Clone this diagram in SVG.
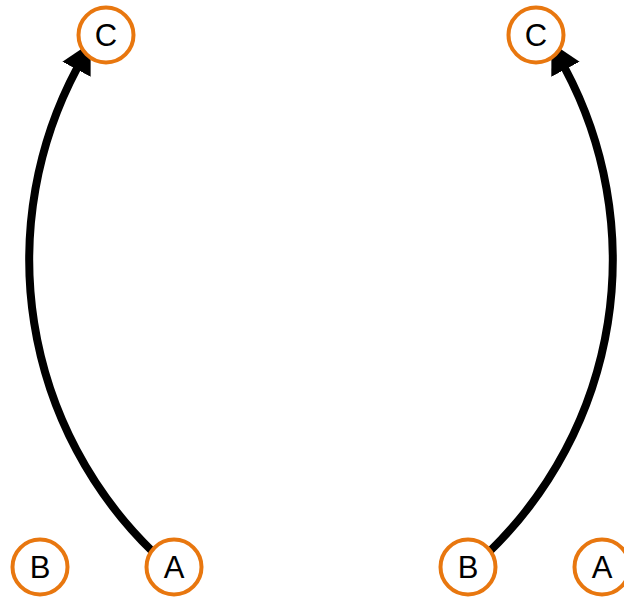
<svg xmlns="http://www.w3.org/2000/svg" width="624" height="597" viewBox="0 0 624 597">
<style>
.node circle{fill:#fff;stroke:#e8770f;stroke-width:4}
.node text{font-family:"Liberation Sans",Arial,sans-serif;font-size:31px;fill:#000;text-anchor:middle}
.edge{fill:none;stroke:#000;stroke-width:8;stroke-linecap:round}
</style>
<defs>
<marker id="arrow" markerUnits="userSpaceOnUse" markerWidth="32" markerHeight="34" viewBox="0 -17 32 34" refX="1" refY="0" orient="auto">
<path d="M0,-16 L30,0 L0,16 z" fill="#000"/>
</marker>
</defs>
<g id="edges">
<path class="edge" d="M153,552 A407,407 0 0,1 77,68.4" marker-end="url(#arrow)"/>
<path class="edge" d="M489,552 A407,407 0 0,0 565,68.4" marker-end="url(#arrow)"/>
</g>
<g id="node-C-left" class="node"><circle cx="106" cy="35" r="27.5"/><text x="106" y="46">C</text></g>
<g id="node-B-left" class="node"><circle cx="40" cy="567" r="27.5"/><text x="40" y="578">B</text></g>
<g id="node-A-left" class="node"><circle cx="174" cy="567" r="27.5"/><text x="174" y="578">A</text></g>
<g id="node-C-right" class="node"><circle cx="536" cy="35" r="27.5"/><text x="536" y="46">C</text></g>
<g id="node-B-right" class="node"><circle cx="468" cy="567" r="27.5"/><text x="468" y="578">B</text></g>
<g id="node-A-right" class="node"><circle cx="602" cy="567" r="27.5"/><text x="602" y="578">A</text></g>
</svg>
